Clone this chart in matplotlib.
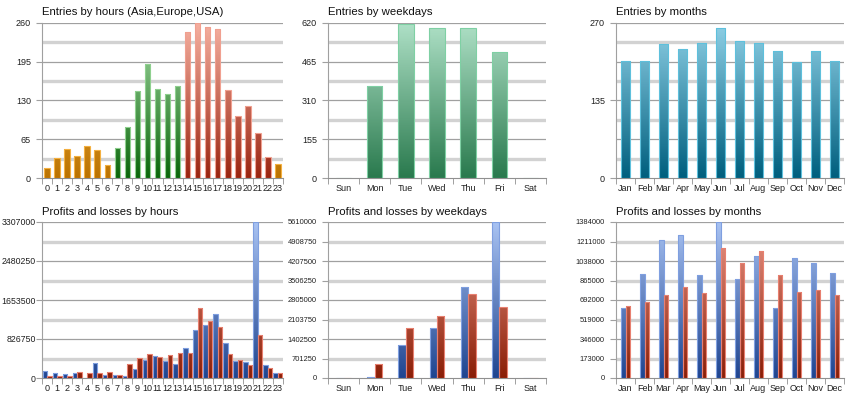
import matplotlib
matplotlib.use("Agg")
import matplotlib.pyplot as plt
import numpy as np
from matplotlib.colors import LinearSegmentedColormap

# ---- data -------------------------------------------------------------
hours = [str(h) for h in range(24)]
weekdays = ["Sun", "Mon", "Tue", "Wed", "Thu", "Fri", "Sat"]
months = ["Jan", "Feb", "Mar", "Apr", "May", "Jun",
          "Jul", "Aug", "Sep", "Oct", "Nov", "Dec"]

entries_hours = [17, 34, 48, 36, 54, 47, 21, 51, 86, 145, 191, 149,
                 141, 154, 244, 260, 253, 249, 148, 104, 120, 76, 35, 24]
# region of each hour: 0 = Asia, 1 = Europe, 2 = USA
hour_region = [0, 0, 0, 0, 0, 0, 0, 1, 1, 1, 1, 1,
               1, 1, 2, 2, 2, 2, 2, 2, 2, 2, 2, 0]
entries_weekdays = [0, 366, 613, 598, 598, 505, 0]
entries_months = [203, 203.5, 233.5, 225, 235, 260,
                  237.5, 235, 221, 202, 220, 204]

profit_hours = [148700, 113000, 92000, 99000, 7000, 319000, 57000, 64000,
                50000, 198000, 389000, 474000, 354000, 304000, 637000,
                1027000, 1126000, 1367000, 736000, 354000, 347000,
                3307000, 269000, 99000]
loss_hours = [50000, 50000, 50000, 127000, 113000, 113000, 127000, 64000,
              304000, 425000, 517000, 446000, 489000, 524000, 524000,
              1487000, 1211000, 1083000, 503000, 382000, 276000,
              920000, 212000, 99000]
profit_weekdays = [0, 36000, 1177000, 1814000, 3280000, 5610000, 0]
loss_weekdays = [0, 516000, 1814000, 2234000, 3015000, 2559000, 0]
profit_months = [622000, 922000, 1221000, 1268000, 916000, 1384000,
                 874000, 1085000, 619000, 1061000, 1019000, 934000]
loss_months = [640000, 676000, 738000, 806000, 753000, 1150000,
               1019000, 1123000, 910000, 762000, 779000, 738000]

# ---- style ------------------------------------------------------------
plt.rcParams['font.family'] = ['Liberation Sans', 'DejaVu Sans']

def cmap(bottom, top):
    return LinearSegmentedColormap.from_list("g", [bottom, top])

ORANGE = (cmap("#bb7200", "#ffc860"), "#f4b040")
GREEN = (cmap("#0a660a", "#a8dca8"), "#8fd08f")
RED = (cmap("#9a2410", "#f6b0a0"), "#f0a090")
MINT = (cmap("#2a7a4e", "#aee0c6"), "#7fd0a4")
TEAL = (cmap("#005f7e", "#8fd0e6"), "#5ec0dc")
BLUE = (cmap("#1f4590", "#a8c2f2"), "#7f9fe0")
BROWN = (cmap("#8a1e06", "#ec9888"), "#e88070")


def grad_bars(ax, x, heights, width, style, ymax):
    cm, edge = style
    bars = ax.bar(x, heights, width, color='none', edgecolor=edge,
                  linewidth=0.8, zorder=4)
    for b in bars:
        h = b.get_height()
        if h <= 0:
            continue
        x0, w = b.get_x(), b.get_width()
        grad = np.linspace(0, h, 64).reshape(-1, 1)
        im = ax.imshow(grad, extent=[x0, x0 + w, 0, h], origin='lower',
                       aspect='auto', cmap=cm, vmin=0, vmax=ymax, zorder=3)
        im.set_clip_path(b)


def setup(ax, title, labels, ymax, nsteps, label_every,
          ysize=6.5, ypad=4.0):
    n = len(labels)
    ax.set_xlim(-0.5, n - 0.5)
    ax.set_ylim(0, ymax)
    step = ymax / nsteps
    for k in range(1, nsteps + 1):
        y = k * step
        if (nsteps - k) % 2 == 0:
            ax.axhline(y, color="#a0a0a0", lw=0.9, zorder=1)
        else:
            ax.axhline(y, color="#d2d2d2", lw=2.4, zorder=1)
    ticks = [k * step for k in range(0, nsteps + 1, label_every)]
    ax.set_yticks(ticks)
    ax.set_yticklabels(["%d" % round(t) for t in ticks])
    ax.set_xticks(range(n))
    ax.set_xticklabels(labels)
    ax.set_xticks(np.arange(-0.5, n, 1.0), minor=True)
    ax.tick_params(axis='x', which='major', length=0, pad=4,
                   labelsize=6.5, colors="#202020")
    ax.tick_params(axis='x', which='minor', length=4, color="#909090")
    ax.tick_params(axis='y', length=4, color="#a0a0a0", pad=ypad,
                   labelsize=ysize, colors="#202020")
    for s in ("top", "right"):
        ax.spines[s].set_visible(False)
    ax.spines["left"].set_color("#a0a0a0")
    ax.spines["bottom"].set_color("#909090")
    ax.text(0, 1.035, title, transform=ax.transAxes, fontsize=8.2,
            ha='left', va='bottom', color="#101010")


fig = plt.figure(figsize=(8.6, 4.0), dpi=100)
W, H = 860.0, 400.0
cols = [(42, 241), (328, 218), (616, 228)]
rows = [(22.7, 178), (222, 378)]


def make_ax(c, r):
    x0, w = cols[c]
    top, bot = rows[r]
    return fig.add_axes([x0 / W, 1 - bot / H, w / W, (bot - top) / H])


# Entries by hours
ax = make_ax(0, 0)
styles = [ORANGE, GREEN, RED]
xs = np.arange(24)
for reg in range(3):
    idx = [i for i in range(24) if hour_region[i] == reg]
    grad_bars(ax, xs[idx], [entries_hours[i] for i in idx], 0.55,
              styles[reg], 260)
setup(ax, "Entries by hours (Asia,Europe,USA)", hours, 260, 8, 2)

# Entries by weekdays
ax = make_ax(1, 0)
grad_bars(ax, np.arange(7), entries_weekdays, 0.5, MINT, 620)
setup(ax, "Entries by weekdays", weekdays, 620, 8, 2)

# Entries by months
ax = make_ax(2, 0)
grad_bars(ax, np.arange(12), entries_months, 0.5, TEAL, 270)
setup(ax, "Entries by months", months, 270, 8, 4)

# Profits and losses by hours
ax = make_ax(0, 1)
w = 0.45
grad_bars(ax, xs - w / 2, profit_hours, w, BLUE, 3307000)
grad_bars(ax, xs + w / 2, loss_hours, w, BROWN, 3307000)
setup(ax, "Profits and losses by hours", hours, 3307000, 8, 2,
      ysize=6.3, ypad=0.5)

# Profits and losses by weekdays
ax = make_ax(1, 1)
w = 0.24
xw = np.arange(7)
grad_bars(ax, xw - w / 2, profit_weekdays, w, BLUE, 5610000)
grad_bars(ax, xw + w / 2, loss_weekdays, w, BROWN, 5610000)
setup(ax, "Profits and losses by weekdays", weekdays, 5610000, 8, 1,
      ysize=5.4, ypad=4.0)

# Profits and losses by months
ax = make_ax(2, 1)
w = 0.23
xm = np.arange(12)
grad_bars(ax, xm - w / 2, profit_months, w, BLUE, 1384000)
grad_bars(ax, xm + w / 2, loss_months, w, BROWN, 1384000)
setup(ax, "Profits and losses by months", months, 1384000, 8, 1,
      ysize=5.4, ypad=4.0)

fig.savefig("out.png", dpi=100)
